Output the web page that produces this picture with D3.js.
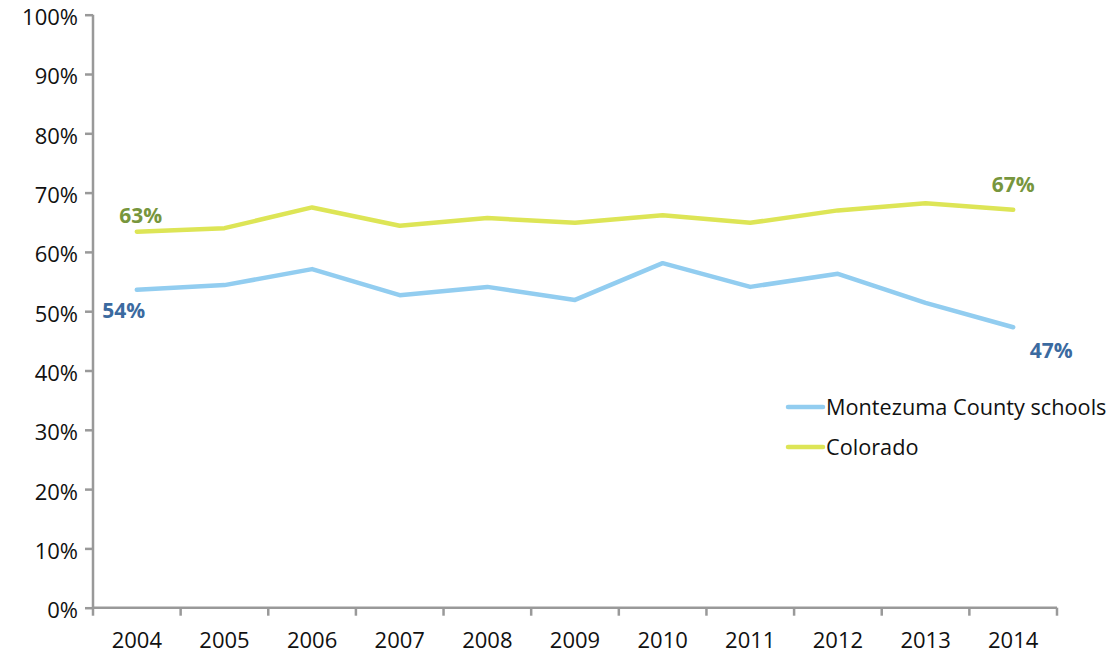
<!DOCTYPE html>
<html><head><meta charset="utf-8">
<script src="https://cdn.jsdelivr.net/npm/d3@7"></script>
<style>body{margin:0;background:#fff}svg{display:block}text{font-family:"Open Sans",sans-serif}</style>
</head><body><svg id="c" width="1114" height="656"></svg>
<script>
const years = ["2004","2005","2006","2007","2008","2009","2010","2011","2012","2013","2014"];
const montezuma = [53.6,54.4,57.1,52.7,54.1,51.9,58.1,54.1,56.3,51.4,47.3];
const colorado = [63.4,64.0,67.5,64.4,65.7,64.9,66.2,64.9,67.0,68.2,67.1];
const yTicks = [0,10,20,30,40,50,60,70,80,90,100];
const seriesNames = ["Montezuma County schools","Colorado"];

const svg = d3.select("#c");
const x = d3.scaleBand().domain(years).range([93,1057]);
const y = d3.scaleLinear().domain([0,100]).range([607.7,14.7]);
const axisColor = "#999";

const ya = svg.append("g").attr("transform","translate(93,0)")
  .call(d3.axisLeft(y).tickValues(yTicks).tickSize(8).tickPadding(7).tickFormat(d=>d+"%"));
const xa = svg.append("g").attr("transform","translate(0,607.7)")
  .call(d3.axisBottom(x).tickSize(0).tickPadding(25));
[ya,xa].forEach(g=>{
  g.selectAll("path").attr("stroke",axisColor).attr("stroke-width",2.5);
  g.selectAll("line").attr("stroke",axisColor).attr("stroke-width",2.5);
  g.selectAll("text").attr("fill","#111").style("font-size","22px").style("font-family","'Open Sans', sans-serif");
});
ya.selectAll("text").attr("dy","0.45em");
xa.select("path").attr("d","M93,0H1057");
ya.select("path").attr("d","M0,607.7V14.7");
const bounds = years.map(d=>x(d)).concat([x.range()[1]]);
xa.selectAll(".bt").data(bounds).enter().append("line")
  .attr("x1",d=>d).attr("x2",d=>d).attr("y1",0).attr("y2",8)
  .attr("stroke",axisColor).attr("stroke-width",2.5);

const cx = d=>x(d)+x.bandwidth()/2;
const line = d3.line().x((d,i)=>cx(years[i])).y(d=>y(d));
const colors = ["#92cdf0","#dde556"];
const labelColors = ["#3b6aa0","#77963d"];
[montezuma,colorado].forEach((s,k)=>{
  svg.append("path").datum(s).attr("d",line).attr("fill","none")
    .attr("stroke",colors[k]).attr("stroke-width",4.5).attr("stroke-linejoin","round").attr("stroke-linecap","round");
});
const lbl = [
  {v:colorado[0], i:0, dx:4, dy:-9, c:1},
  {v:colorado[10], i:10, dx:0, dy:-18, c:1},
  {v:montezuma[0], i:0, dx:-13, dy:28, c:0},
  {v:montezuma[10], i:10, dx:38, dy:31, c:0}
];
lbl.forEach(l=>{
  svg.append("text").attr("x",cx(years[l.i])+l.dx).attr("y",y(l.v)+l.dy)
    .attr("text-anchor","middle").attr("fill",labelColors[l.c])
    .style("font-size","21px").style("font-weight","bold").text(Math.round(l.v)+"%");
});
seriesNames.forEach((n,k)=>{
  const ly = 407 + k*40;
  svg.append("line").attr("x1",788).attr("x2",823).attr("y1",ly).attr("y2",ly)
    .attr("stroke",colors[k]).attr("stroke-width",4.5).attr("stroke-linecap","round");
  svg.append("text").attr("x",826).attr("y",ly+8).attr("fill","#111").style("font-size","21.7px").text(n);
});
</script></body></html>
